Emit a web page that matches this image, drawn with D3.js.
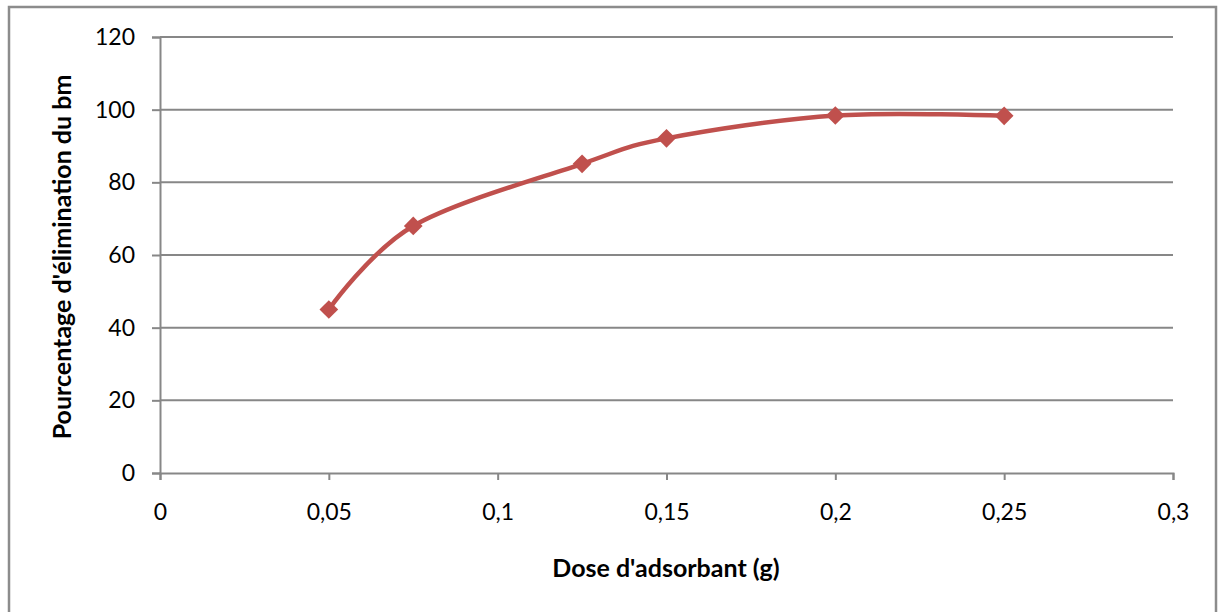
<!DOCTYPE html>
<html>
<head>
<meta charset="utf-8">
<script src="https://cdn.jsdelivr.net/npm/d3@7"></script>
<style>
  body { margin: 0; background: #fff; }
  svg { display: block; font-family: Lato, "Open Sans", sans-serif; }
</style>
</head>
<body>
<svg id="chart" width="1218" height="612"></svg>
<script>
// Data
var doses = [0.05, 0.075, 0.125, 0.15, 0.2, 0.25];
var removal = [45, 68, 85.1, 92.1, 98.4, 98.3];
var xTicks = [0, 0.05, 0.1, 0.15, 0.2, 0.25, 0.3];
var yTicks = [0, 20, 40, 60, 80, 100, 120];

var svg = d3.select("#chart");
var gridColor = "#878787";

// Outer frame
svg.append("rect")
    .attr("x", 9).attr("y", 7)
    .attr("width", 1207).attr("height", 620)
    .attr("fill", "none")
    .attr("stroke", "#8c8c8c")
    .attr("stroke-width", 2.5);

var margin = {left: 160, right: 1173, top: 37, bottom: 473};
var x = d3.scaleLinear().domain([0, 0.3]).range([margin.left, margin.right]);
var y = d3.scaleLinear().domain([0, 120]).range([margin.bottom, margin.top]);

var fmt = function(d) { return String(d).replace(".", ","); };

// Horizontal gridlines
svg.append("g")
    .selectAll("line")
    .data(yTicks.filter(d => d > 0))
    .enter().append("line")
    .attr("x1", margin.left).attr("x2", margin.right)
    .attr("y1", d => y(d)).attr("y2", d => y(d))
    .attr("stroke", gridColor)
    .attr("stroke-width", 2);

// Y axis
var yAxis = svg.append("g")
    .attr("transform", "translate(" + margin.left + ",0)")
    .call(d3.axisLeft(y).tickValues(yTicks).tickSize(8).tickPadding(17).tickFormat(fmt));
yAxis.attr("font-family", null);
yAxis.select(".domain").attr("stroke", gridColor).attr("stroke-width", 2);
yAxis.selectAll(".tick line").attr("stroke", gridColor).attr("stroke-width", 2);
yAxis.selectAll("text").style("font-size", "23px").attr("fill", "#000");

// X axis
var xAxis = svg.append("g")
    .attr("transform", "translate(0," + margin.bottom + ")")
    .call(d3.axisBottom(x).tickValues(xTicks).tickSize(7).tickPadding(24).tickFormat(fmt));
xAxis.attr("font-family", null);
xAxis.select(".domain").attr("stroke", gridColor).attr("stroke-width", 2);
xAxis.selectAll(".tick line").attr("stroke", gridColor).attr("stroke-width", 2);
xAxis.selectAll("text").style("font-size", "23px").attr("fill", "#000");

// Series
var points = doses.map((d, i) => ({dose: d, value: removal[i]}));

var line = d3.line()
    .x(d => x(d.dose))
    .y(d => y(d.value))
    .curve(d3.curveCardinal.tension(0));

svg.append("path")
    .datum(points)
    .attr("d", line)
    .attr("fill", "none")
    .attr("stroke", "#c0504d")
    .attr("stroke-width", 4.5)
    .attr("stroke-linecap", "round");

svg.append("g")
    .selectAll("path")
    .data(points)
    .enter().append("path")
    .attr("d", d3.symbol().type(d3.symbolSquare).size(175))
    .attr("transform", d => "translate(" + x(d.dose) + "," + y(d.value) + ") rotate(45)")
    .attr("fill", "#c0504d");

// Axis titles
svg.append("text")
    .attr("x", 666).attr("y", 577)
    .style("text-anchor", "middle")
    .style("font-size", "25px")
    .style("font-weight", "bold")
    .text("Dose d'adsorbant (g)");

svg.append("text")
    .attr("transform", "translate(71,257) rotate(-90)")
    .style("text-anchor", "middle")
    .style("font-size", "25px")
    .style("font-weight", "bold")
    .text("Pourcentage d'élimination du bm");
</script>
</body>
</html>
